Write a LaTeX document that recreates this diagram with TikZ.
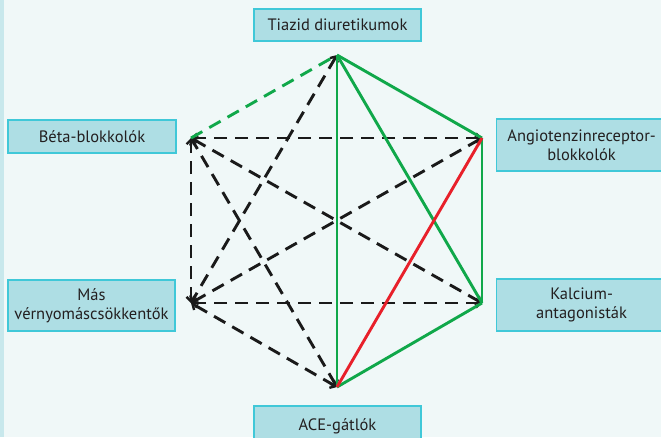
\documentclass[tikz,border=0pt]{standalone}
\usepackage{fontspec}
\setmainfont{PT Sans}
\usetikzlibrary{arrows.meta}
\definecolor{bgc}{HTML}{F0F8F8}
\definecolor{stripe}{HTML}{C8E8EC}
\definecolor{boxfill}{HTML}{AEDEE4}
\definecolor{boxline}{HTML}{40C8D8}
\definecolor{txt}{HTML}{231F20}
\definecolor{lgreen}{HTML}{10A84A}
\definecolor{lred}{HTML}{E8202A}
\definecolor{lblack}{HTML}{1A1A1A}
\tikzset{
  drug/.style={draw=boxline, line width=1.2pt, fill=boxfill, text=txt, align=center,
    inner sep=0pt, font=\fontsize{16.5}{19.5}\selectfont},
  blk/.style={draw=lblack, line width=2.9pt, dash pattern=on 13pt off 8pt,
    {Straight Barb[length=4.5pt,width=9pt,line width=2.4pt]}-{Straight Barb[length=4.5pt,width=9pt,line width=2.4pt]}},
  grn/.style={draw=lgreen, line width=2.9pt},
  grnd/.style={draw=lgreen, line width=2.9pt, dash pattern=on 13pt off 8pt},
  rd/.style={draw=lred, line width=2.9pt}
}
\begin{document}
\begin{tikzpicture}[x=1pt,y=-1pt]
\fill[bgc] (0,0) rectangle (661,437);
\fill[stripe] (0,0) rectangle (4,437);
\useasboundingbox (0,0) rectangle (661,437);
% vertices
\coordinate (T) at (337,55);
\coordinate (UL) at (191,138);
\coordinate (UR) at (482,138);
\coordinate (LL) at (191,303);
\coordinate (LR) at (482,303);
\coordinate (B) at (337,387);
% boxes
\node[drug, minimum width=167pt, minimum height=32pt] (tiazid) at (337.5,25) {Tiazid diuretikumok};
\node[drug, minimum width=168pt, minimum height=33pt] (beta) at (92,136.5) {Béta-blokkolók};
\node[drug, minimum width=170pt, minimum height=52pt, anchor=west] (angio) at (496,145) {Angiotenzinreceptor-\\blokkolók};
\node[drug, minimum width=167pt, minimum height=51pt] (mas) at (91.5,305.5) {Más\\vérnyomáscsökkentők};
\node[drug, minimum width=170pt, minimum height=52pt, anchor=west] (kalc) at (496,305) {Kalcium-\\antagonisták};
\node[drug, minimum width=167pt, minimum height=40pt] (ace) at (337.5,426) {ACE-gátlók};
% black dashed
\draw[blk] (UR) -- (UL);
\draw[blk] (LR) -- (UL);
\draw[blk] (LL) -- (UL);
\draw[blk] (B) -- (UL);
\draw[blk] (UR) -- (LL);
\draw[blk] (LR) -- (LL);
\draw[blk] (T) -- (LL);
\draw[blk] (B) -- (LL);
% green
\draw[grnd] (UL) -- (T);
\draw[grn] (T) -- (UR);
\draw[grn] (T) -- (B);
\draw[grn] (T) -- (LR);
\draw[grn] (UR) -- (LR);
\draw[grn] (LR) -- (B);
\draw[rd] (UR) -- (B);
\end{tikzpicture}
\end{document}
